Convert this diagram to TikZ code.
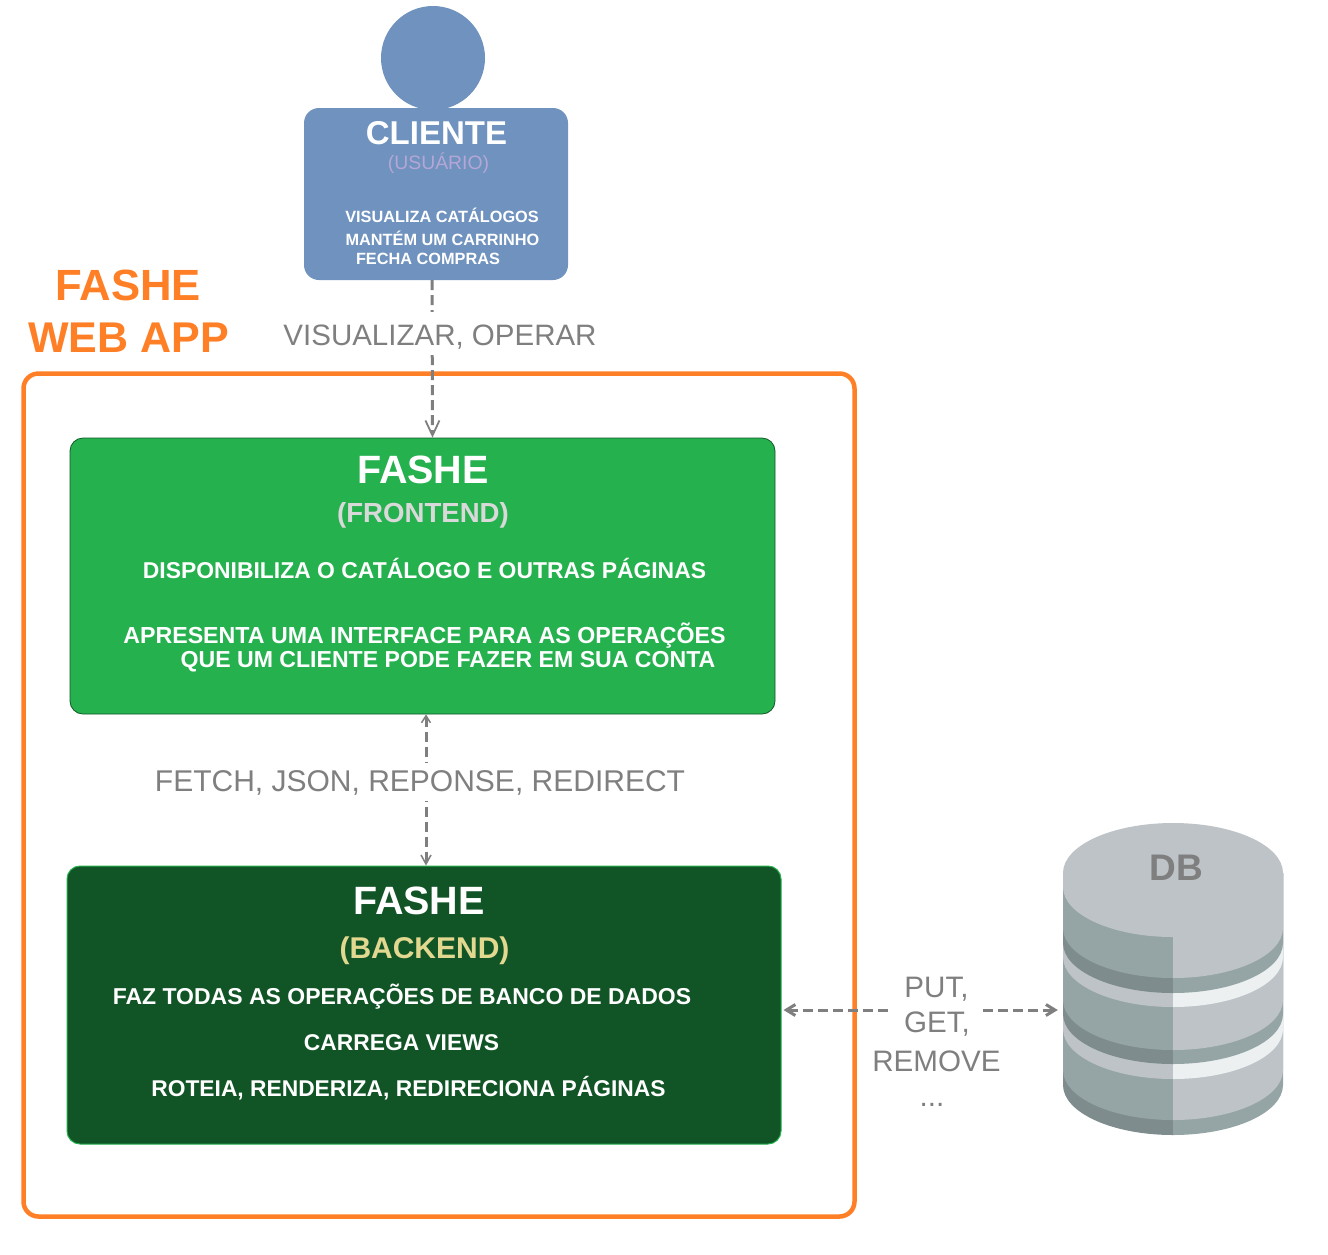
\documentclass[tikz,border=0pt]{standalone}
\usepackage{fontspec}
\setmainfont{Liberation Sans}
\usetikzlibrary{arrows.meta}
\definecolor{orangeL}{HTML}{FF7F27}
\definecolor{clientB}{HTML}{6F92BF}
\definecolor{lilac}{HTML}{B4A7D6}
\definecolor{frontG}{HTML}{24B14E}
\definecolor{backG}{HTML}{115426}
\definecolor{greyT}{HTML}{7F7F7F}
\definecolor{sand}{HTML}{E2D88F}
\definecolor{subgrey}{HTML}{D9D9D9}
\definecolor{dbA}{HTML}{BDC3C7}
\definecolor{dbB}{HTML}{95A5A6}
\definecolor{dbC}{HTML}{7F8C8D}
\definecolor{dbD}{HTML}{ECF0F1}
\newcommand{\dbLeft}[2]{\fill[#1] (1063,873) -- (1063,#2-50) .. controls (1063,#2-22.4) and (1112.2,#2) .. (1173,#2) -- (1173,873) -- cycle;}
\newcommand{\dbRight}[2]{\fill[#1] (1283,873) -- (1283,#2-50) .. controls (1283,#2-22.4) and (1233.8,#2) .. (1173,#2) -- (1173,873) -- cycle;}
\tikzset{
  lbl/.style={anchor=base,inner sep=0pt,font=\fontsize{#1}{#1}\selectfont},
  whitebold/.style={lbl=#1,text=white,font=\fontsize{#1}{#1}\selectfont\bfseries},
  greylbl/.style={lbl=#1,text=greyT},
  flow/.style={draw=greyT,line width=3pt,dash pattern=on 10pt off 5pt},
  panel/.style={rounded corners=13pt,minimum width=#1,inner sep=0pt}
}
\begin{document}
\begin{tikzpicture}[x=1pt,y=-1pt]
\useasboundingbox (0,0) rectangle (1328,1254);
% Web app frame
\node[draw=orangeL,line width=4.5pt,rounded corners=15pt,minimum width=831pt,minimum height=843pt,inner sep=0pt] (webapp) at (439,795) {};
\node[lbl=43.7,text=orangeL,font=\fontsize{43.7}{43.7}\selectfont\bfseries] (apptitleA) at (128,300.5) {FASHE};
\node[lbl=43,text=orangeL,font=\fontsize{43}{43}\selectfont\bfseries] (apptitleB) at (128.5,352) {WEB APP};
% Client
\node[circle,fill=clientB,minimum size=104pt,inner sep=0pt] (head) at (433,58) {};
\node[panel=264pt,fill=clientB,minimum height=172pt,rounded corners=15pt] (cliente) at (436,194) {};
\node[whitebold=33] (clienteT) at (436.5,144) {CLIENTE};
\node[lbl=19.4,text=lilac] (clienteS) at (438.5,169) {(USUÁRIO)};
\node[whitebold=16.3] (clienteA) at (442,222) {VISUALIZA CATÁLOGOS};
\node[whitebold=16.3] (clienteB) at (442.5,245) {MANTÉM UM CARRINHO};
\node[whitebold=16.3] (clienteC) at (428,264) {FECHA COMPRAS};
% Frontend
\node[panel=705pt,fill=frontG,draw=black!50!frontG,line width=.8pt,minimum height=276pt] (frontend) at (422.5,576) {};
\node[whitebold=39.5] (frontT) at (423,483.5) {FASHE};
\node[whitebold=27.6,text=subgrey] (frontS) at (423,522) {(FRONTEND)};
\node[whitebold=22.9] (frontA) at (424.5,578) {DISPONIBILIZA O CATÁLOGO E OUTRAS PÁGINAS};
\node[whitebold=23.2] (frontB) at (424.5,643) {APRESENTA UMA INTERFACE PARA AS OPERAÇÕES};
\node[whitebold=23.1] (frontC) at (448,667) {QUE UM CLIENTE PODE FAZER EM SUA CONTA};
% Backend
\node[panel=714pt,fill=backG,draw=frontG,line width=1pt,minimum height=278pt] (backend) at (424,1005) {};
\node[whitebold=39.5] (backT) at (419,914.5) {FASHE};
\node[whitebold=30,text=sand] (backS) at (424.5,958.5) {(BACKEND)};
\node[whitebold=23] (backA) at (402,1004) {FAZ TODAS AS OPERAÇÕES DE BANCO DE DADOS};
\node[whitebold=22.8] (backB) at (401.5,1050) {CARREGA VIEWS};
\node[whitebold=22.8] (backC) at (408.5,1096) {ROTEIA, RENDERIZA, REDIRECIONA PÁGINAS};
% Database
\node[minimum width=220pt,minimum height=312pt,inner sep=0pt] (db) at (1173,979) {};
\dbLeft{dbC}{1135}
\dbLeft{dbB}{1120}
\dbLeft{dbA}{1079}
\dbLeft{dbC}{1064}
\dbLeft{dbB}{1050}
\dbLeft{dbA}{1007}
\dbLeft{dbC}{993}
\dbLeft{dbB}{978}
\dbRight{dbB}{1135}
\dbRight{dbA}{1120}
\dbRight{dbD}{1079}
\dbRight{dbB}{1064}
\dbRight{dbA}{1050}
\dbRight{dbD}{1007}
\dbRight{dbB}{993}
\fill[dbA] (1063,887) -- (1063,873) .. controls (1063,845.4) and (1112.2,823) .. (1173,823)
  .. controls (1233.8,823) and (1283,845.4) .. (1283,873) -- (1283,928)
  .. controls (1283,955.6) and (1233.8,978) .. (1173,978) -- (1173,937)
  .. controls (1112.2,937) and (1063,914.6) .. (1063,887) -- cycle;
\node[lbl=37,text=greyT,font=\fontsize{37}{37}\selectfont\bfseries] (dbT) at (1176,880) {DB};
% Connectors
\draw[flow,-{Straight Barb[length=15pt,width=14pt,line width=1.8pt]}] ([xshift=-4pt]cliente.south) -- ([xshift=10pt]frontend.north);
\draw[flow,{Straight Barb[length=7pt,width=9pt,line width=1.5pt]}-{Straight Barb[length=9pt,width=10pt,line width=1.5pt]}] ([xshift=3.5pt]frontend.south) -- ([xshift=2pt]backend.north);
\draw[flow,{Straight Barb[length=9pt,width=11pt,line width=3pt]}-{Straight Barb[length=9pt,width=11pt,line width=3pt]}] ([xshift=2pt,yshift=-5pt]backend.east) -- ([xshift=-5pt,yshift=-31pt]db.west);
% Connector labels
\node[greylbl=29.5,fill=white,text height=33pt,text depth=7pt] (l1) at (440,345) {VISUALIZAR, OPERAR};
\node[greylbl=30,fill=white,text height=28pt,text depth=10pt] (l2) at (420,791) {FETCH, JSON, REPONSE, REDIRECT};
\node[greylbl=29.6] (l3a) at (936.5,997) {PUT,};
\node[greylbl=29.6,fill=white,minimum width=88pt,text height=26pt,text depth=5pt] (l3b) at (937,1032) {GET,};
\node[greylbl=29.6] (l3c) at (936.5,1071) {REMOVE};
\node[greylbl=29.6] (l3d) at (932,1106) {...};
\end{tikzpicture}
\end{document}
